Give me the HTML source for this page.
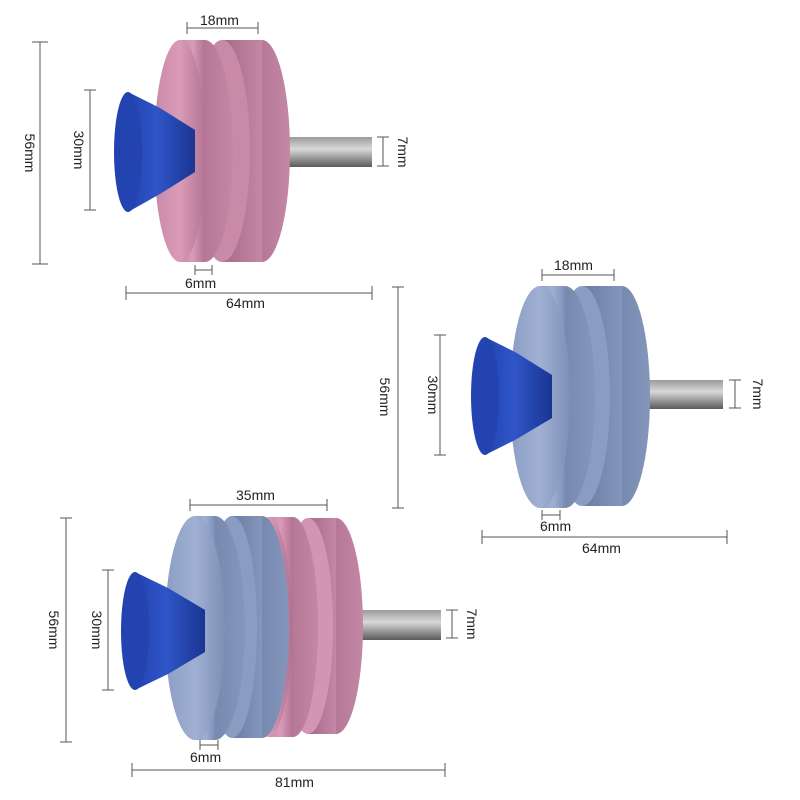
<!DOCTYPE html>
<html><head><meta charset="utf-8"><style>
html,body{margin:0;padding:0;background:#fff}
svg{display:block}
text{font-family:"Liberation Sans",sans-serif;font-size:14px;fill:#222}
</style></head><body>
<svg width="800" height="800" viewBox="0 0 800 800" xmlns="http://www.w3.org/2000/svg">
<defs>
<linearGradient id="pk" x1="0" x2="1"><stop offset="0" stop-color="#c98aa8"/><stop offset="0.5" stop-color="#d99bb8"/><stop offset="1" stop-color="#b27292"/></linearGradient>
<linearGradient id="pkd" x1="0" x2="1"><stop offset="0" stop-color="#a8698a"/><stop offset="1" stop-color="#c487a5"/></linearGradient>
<linearGradient id="bl" x1="0" x2="1"><stop offset="0" stop-color="#8c9ec4"/><stop offset="0.5" stop-color="#9fb0d2"/><stop offset="1" stop-color="#7d8fb6"/></linearGradient>
<linearGradient id="bld" x1="0" x2="1"><stop offset="0" stop-color="#6b7ca3"/><stop offset="1" stop-color="#8596bd"/></linearGradient>
<linearGradient id="sh" x1="0" y1="0" x2="0" y2="1"><stop offset="0" stop-color="#9a9a9a"/><stop offset="0.4" stop-color="#d8d8d8"/><stop offset="1" stop-color="#5a5a5a"/></linearGradient>
<linearGradient id="cup" x1="0" x2="1"><stop offset="0" stop-color="#1f3fa8"/><stop offset="0.5" stop-color="#2f55c8"/><stop offset="1" stop-color="#1a3592"/></linearGradient>
</defs>
<g stroke="#555" stroke-width="1" fill="none">
<!-- top dims -->
<path d="M40 42V264M32 42H48M32 264H48"/>
<path d="M90 90V210M84 90H96M84 210H96"/>
<path d="M187 28H258M187 22V34M258 22V34"/>
<path d="M383 137V166M377 137H389M377 166H389"/>
<path d="M195 270H212M195 265V275M212 265V275"/>
<path d="M126 293H372M126 286V300M372 286V300"/>
<!-- middle dims -->
<path d="M398 287V508M392 287H404M392 508H404"/>
<path d="M440 335V455M434 335H446M434 455H446"/>
<path d="M542 275H614M542 269V281M614 269V281"/>
<path d="M735 380V408M729 380H741M729 408H741"/>
<path d="M542 515H560M542 510V520M560 510V520"/>
<path d="M482 537H727M482 530V544M727 530V544"/>
<!-- bottom dims -->
<path d="M66 518V742M60 518H72M60 742H72"/>
<path d="M108 570V690M102 570H114M102 690H114"/>
<path d="M190 505H327M190 499V511M327 499V511"/>
<path d="M452 610V638M446 610H458M446 638H458"/>
<path d="M200 745H218M200 740V750M218 740V750"/>
<path d="M132 770H445M132 763V777M445 763V777"/>
</g>
<!-- top product -->
<rect x="286" y="137" width="86" height="30" fill="url(#sh)"/>
<ellipse cx="262" cy="151" rx="28" ry="111" fill="url(#pkd)"/>
<rect x="222" y="40" width="40" height="222" fill="url(#pkd)"/>
<ellipse cx="222" cy="151" rx="28" ry="111" fill="#c98aa8"/>
<ellipse cx="205" cy="151" rx="28" ry="111" fill="url(#pkd)"/>
<rect x="180" y="40" width="25" height="222" fill="url(#pk)"/>
<ellipse cx="180" cy="151" rx="26" ry="111" fill="url(#pk)"/>
<path d="M128 92 L160 108 L195 130 L195 172 L160 194 L128 212 Q112 152 128 92Z" fill="url(#cup)"/>
<ellipse cx="128" cy="152" rx="14" ry="60" fill="#2344b0"/>
<!-- middle product -->
<rect x="645" y="380" width="78" height="29" fill="url(#sh)"/>
<ellipse cx="622" cy="396" rx="28" ry="110" fill="url(#bld)"/>
<rect x="582" y="286" width="40" height="220" fill="url(#bld)"/>
<ellipse cx="582" cy="396" rx="28" ry="110" fill="#8a9cc2"/>
<ellipse cx="565" cy="397" rx="30" ry="111" fill="url(#bld)"/>
<rect x="540" y="286" width="25" height="222" fill="url(#bl)"/>
<ellipse cx="540" cy="397" rx="30" ry="111" fill="url(#bl)"/>
<path d="M485 337 L515 352 L552 375 L552 418 L515 440 L485 455 Q468 396 485 337Z" fill="url(#cup)"/>
<ellipse cx="485" cy="396" rx="14" ry="59" fill="#2344b0"/>
<!-- bottom product -->
<rect x="357" y="610" width="84" height="30" fill="url(#sh)"/>
<ellipse cx="336" cy="626" rx="27" ry="108" fill="url(#pkd)"/>
<rect x="308" y="518" width="28" height="216" fill="url(#pkd)"/>
<ellipse cx="308" cy="626" rx="25" ry="108" fill="#d295b3"/>
<ellipse cx="293" cy="627" rx="25" ry="110" fill="url(#pkd)"/>
<rect x="268" y="517" width="25" height="220" fill="url(#pk)"/>
<ellipse cx="268" cy="627" rx="24" ry="110" fill="url(#pk)"/>
<ellipse cx="262" cy="627" rx="27" ry="111" fill="url(#bld)"/>
<rect x="232" y="516" width="30" height="222" fill="url(#bld)"/>
<ellipse cx="232" cy="627" rx="25" ry="111" fill="#8a9cc2"/>
<ellipse cx="215" cy="628" rx="30" ry="112" fill="url(#bld)"/>
<rect x="195" y="516" width="20" height="224" fill="url(#bl)"/>
<ellipse cx="195" cy="628" rx="30" ry="112" fill="url(#bl)"/>
<path d="M135 572 L168 588 L205 610 L205 652 L168 674 L135 690 Q118 631 135 572Z" fill="url(#cup)"/>
<ellipse cx="135" cy="631" rx="14" ry="59" fill="#2344b0"/>
<!-- labels -->
<text x="200" y="25">18mm</text>
<text x="185" y="288">6mm</text>
<text x="226" y="308">64mm</text>
<text transform="translate(25,153) rotate(90)" text-anchor="middle">56mm</text>
<text transform="translate(74,150) rotate(90)" text-anchor="middle">30mm</text>
<text transform="translate(398,152) rotate(90)" text-anchor="middle">7mm</text>
<text x="554" y="270">18mm</text>
<text x="540" y="531">6mm</text>
<text x="582" y="553">64mm</text>
<text transform="translate(380,397) rotate(90)" text-anchor="middle">56mm</text>
<text transform="translate(428,395) rotate(90)" text-anchor="middle">30mm</text>
<text transform="translate(753,394) rotate(90)" text-anchor="middle">7mm</text>
<text x="236" y="500">35mm</text>
<text x="190" y="762">6mm</text>
<text x="275" y="787">81mm</text>
<text transform="translate(49,630) rotate(90)" text-anchor="middle">56mm</text>
<text transform="translate(92,630) rotate(90)" text-anchor="middle">30mm</text>
<text transform="translate(467,624) rotate(90)" text-anchor="middle">7mm</text>
</svg>
</body></html>
